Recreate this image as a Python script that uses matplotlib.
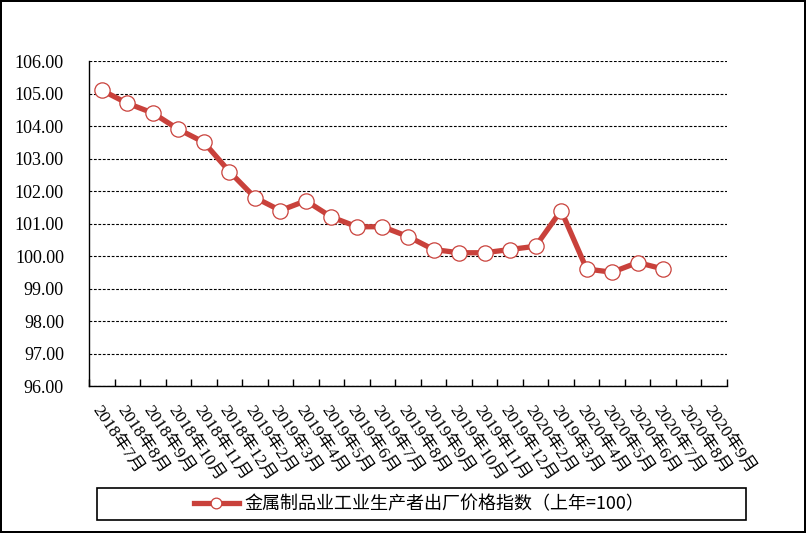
import numpy as np
import matplotlib
matplotlib.use("Agg")
import matplotlib.pyplot as plt
from matplotlib.patches import Rectangle
from matplotlib.ticker import FormatStrFormatter

# categories as printed on the chart (the 2019年3月 after 2020年2月 is in the original)
months = ['2018年7月', '2018年8月', '2018年9月', '2018年10月', '2018年11月',
          '2018年12月', '2019年2月', '2019年3月', '2019年4月', '2019年5月',
          '2019年6月', '2019年7月', '2019年8月', '2019年9月', '2019年10月',
          '2019年11月', '2019年12月', '2020年2月', '2019年3月', '2020年4月',
          '2020年5月', '2020年6月', '2020年7月', '2020年8月', '2020年9月']
index_values = [105.1, 104.7, 104.4, 103.9, 103.5, 102.6, 101.8, 101.4, 101.7,
                101.2, 100.9, 100.9, 100.6, 100.2, 100.1, 100.1, 100.2, 100.3,
                101.4, 99.6, 99.5, 99.8, 99.6]
series_name = '金属制品业工业生产者出厂价格指数（上年=100）'
y_ticks = [96, 97, 98, 99, 100, 101, 102, 103, 104, 105, 106]

fam = ['Liberation Serif', 'Noto Sans CJK SC']
plt.rcParams['font.family'] = fam

W, H = 806, 533
fig = plt.figure(figsize=(W / 100, H / 100), dpi=100)
fig.patch.set_edgecolor('black')
fig.patch.set_linewidth(1.5)
ax = fig.add_axes([89 / W, 1 - 386 / H, (727 - 89) / W, (386 - 61) / H])

red = '#C9413B'
xs = np.arange(len(index_values)) + 0.5
line, = ax.plot(xs, index_values, '-o', color=red, lw=3.8,
                markersize=11, markerfacecolor='white',
                markeredgecolor=red, markeredgewidth=0.9,
                label=series_name, zorder=3)

ax.set_xlim(0, len(months))
ax.set_ylim(96, 106)
ax.set_yticks(y_ticks)
ax.yaxis.set_major_formatter(FormatStrFormatter('%.2f'))
ax.tick_params(axis='y', length=0, pad=18, labelsize=13)

ax.set_xticks(np.arange(len(months) + 1))
ax.set_xticklabels([])
ax.set_xticks(np.arange(len(months)) + 0.5, minor=True)
ax.set_xticklabels(months, minor=True, rotation=-56, ha='left', va='top',
                   rotation_mode='anchor', fontsize=12.5)
ax.tick_params(axis='x', which='major', direction='in', length=5, width=1)
ax.tick_params(axis='x', which='minor', length=0, pad=12)

ax.grid(axis='y', color='black', linestyle=(0, (2.5, 1.5)), lw=0.8)
ax.set_axisbelow(True)
for side in ['top', 'right']:
    ax.spines[side].set_visible(False)
for side in ['left', 'bottom']:
    ax.spines[side].set_linewidth(1)

# legend box drawn as a fixed frame, legend itself placed inside it
fig.patches.append(Rectangle((97 / W, 1 - 520 / H), (746 - 97) / W, 32 / H,
                             transform=fig.transFigure, fill=False,
                             edgecolor='black', linewidth=1.2))
leg = fig.legend(handles=[line], loc='center', bbox_to_anchor=(419 / W, 1 - 504 / H),
                 frameon=False, handlelength=2.5, handletextpad=0.3, markerscale=0.7,
                 prop={'family': ['Noto Sans CJK SC'], 'size': 13})

fig.savefig('out.png', dpi=100)
